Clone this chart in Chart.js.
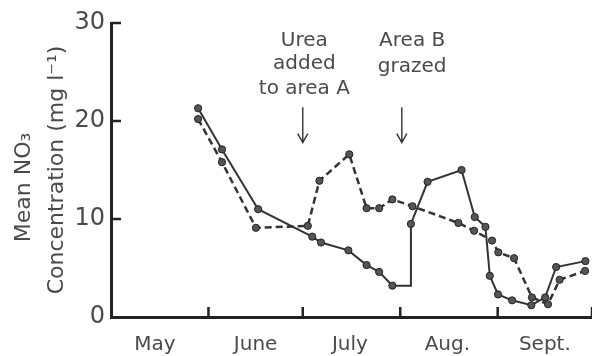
<!DOCTYPE html>
<html>
<head>
<meta charset="utf-8">
<script src="https://cdn.jsdelivr.net/npm/chart.js@4/dist/chart.umd.min.js"></script>
<style>
  html, body { margin: 0; padding: 0; background: #fff; }
  #wrap { width: 592px; height: 356px; }
</style>
</head>
<body>
<div id="wrap"><canvas id="no3Chart"></canvas></div>
<script>
// ---- data (x = days counted from 1 May) ----
const monthLabels = ['May', 'June', 'July', 'Aug.', 'Sept.'];
const monthMidDays = [14, 46, 76, 107, 138];        // where the month names sit
const monthStartDays = [31, 61, 92, 123, 153];      // tick marks on the time axis
const yTickValues = [0, 10, 20, 30];

// solid line (area B) - the 3.2 at day 95.4 is the corner of the step, no dot there
const solidDays   = [27.7, 35.3, 46.8, 64.0, 66.8, 75.5, 81.3, 85.3, 89.5, 95.4, 95.4, 100.7, 111.5, 115.7, 119.1, 120.5, 123.1, 127.6, 133.7, 138.1, 141.6, 150.9];
const solidValues = [21.3, 17.1, 11.0, 8.2, 7.6, 6.8, 5.3, 4.6, 3.2, 3.2, 9.5, 13.8, 15.0, 10.2, 9.2, 4.2, 2.3, 1.7, 1.2, 2.0, 5.1, 5.7];

// dashed line (area A)
const dashedDays   = [27.7, 35.3, 46.1, 62.6, 66.3, 75.8, 81.3, 85.3, 89.5, 95.9, 110.5, 115.5, 121.2, 123.2, 128.2, 133.9, 139.0, 142.7, 150.8];
const dashedValues = [20.2, 15.8, 9.1, 9.3, 13.9, 16.6, 11.1, 11.1, 12.0, 11.3, 9.6, 8.8, 7.8, 6.6, 6.0, 2.0, 1.3, 3.8, 4.7];

// notes above the plot
const noteUreaText = ['Urea', 'added', 'to area A'];
const noteGrazedText = ['Area B', 'grazed'];
const ureaDay = 61;
const grazedDay = 92.5;

const FONT = "'DejaVu Sans', sans-serif";
const INK = '#333';
const TEXT = '#4a4a4a';

function toPoints(days, values) {
    return days.map((d, i) => ({ x: d, y: values[i] }));
}

// no dot on a point that only starts a vertical step
function dotRadius(days) {
    return ctx => (days[ctx.dataIndex + 1] === days[ctx.dataIndex] && ctx.dataIndex > 0 &&
                   ctx.dataset.data[ctx.dataIndex - 1].y === ctx.dataset.data[ctx.dataIndex].y) ? 0 : 3.6;
}

// inward tick marks, arrows and the two notes
const figureMarks = {
    id: 'figureMarks',
    afterDatasetsDraw(chart) {
        const c = chart.ctx;
        const xs = chart.scales.x, ys = chart.scales.y;
        const area = chart.chartArea;
        c.save();
        c.strokeStyle = '#222';
        c.lineWidth = 2.5;
        // y ticks pointing right
        yTickValues.slice(1).forEach(v => {
            const py = ys.getPixelForValue(v);
            c.beginPath(); c.moveTo(area.left, py); c.lineTo(area.left + 10, py); c.stroke();
        });
        // x ticks pointing up
        monthStartDays.forEach(d => {
            const px = xs.getPixelForValue(d);
            c.beginPath(); c.moveTo(px, area.bottom); c.lineTo(px, area.bottom - 10); c.stroke();
        });

        // arrows
        c.strokeStyle = INK;
        c.lineWidth = 1.4;
        [ureaDay, grazedDay].forEach(d => {
            const px = xs.getPixelForValue(d);
            const top = ys.getPixelForValue(21.4), bot = ys.getPixelForValue(17.8);
            c.beginPath();
            c.moveTo(px, top); c.lineTo(px, bot);
            c.moveTo(px - 5, bot - 9); c.lineTo(px, bot); c.lineTo(px + 5, bot - 9);
            c.stroke();
        });

        // notes
        c.fillStyle = TEXT;
        c.font = '20px ' + FONT;
        c.textAlign = 'center';
        c.textBaseline = 'middle';
        const ureaX = xs.getPixelForValue(61.5);
        [28.2, 25.8, 23.3].forEach((v, i) => c.fillText(noteUreaText[i], ureaX, ys.getPixelForValue(v)));
        const grazedX = xs.getPixelForValue(95.8);
        [28.2, 25.5].forEach((v, i) => c.fillText(noteGrazedText[i], grazedX, ys.getPixelForValue(v)));
        c.restore();
    }
};

const ctx = document.getElementById('no3Chart').getContext('2d');
const no3Chart = new Chart(ctx, {
    type: 'line',
    data: {
        datasets: [
            {
                label: 'Area B',
                data: toPoints(solidDays, solidValues),
                borderColor: INK,
                borderWidth: 2,
                pointRadius: dotRadius(solidDays),
                pointBackgroundColor: '#555',
                pointBorderColor: '#222',
                pointBorderWidth: 1,
                tension: 0,
                fill: false
            },
            {
                label: 'Area A',
                data: toPoints(dashedDays, dashedValues),
                borderColor: INK,
                borderWidth: 2.5,
                borderDash: [7, 4],
                pointRadius: 3.6,
                pointBackgroundColor: '#555',
                pointBorderColor: '#222',
                pointBorderWidth: 1,
                tension: 0,
                fill: false
            }
        ]
    },
    options: {
        responsive: true,
        maintainAspectRatio: false,
        animation: false,
        devicePixelRatio: 1,
        layout: { autoPadding: false, padding: { top: 23, left: 0, right: 0, bottom: 0 } },
        plugins: {
            legend: { display: false },
            tooltip: { enabled: false }
        },
        scales: {
            x: {
                type: 'linear',
                min: 0,
                max: 153,
                afterBuildTicks: scale => { scale.ticks = monthMidDays.map(v => ({ value: v })); },
                afterFit: scale => {
                    scale.height = 39;
                    scale.paddingLeft = 0;
                    scale.paddingRight = 0;
                },
                ticks: {
                    autoSkip: false,
                    maxRotation: 0,
                    padding: 16,
                    color: TEXT,
                    font: { family: FONT, size: 20 },
                    callback: (v, i) => monthLabels[i]
                },
                grid: { display: true, drawOnChartArea: false, drawTicks: false },
                border: { display: true, color: '#222', width: 3 }
            },
            y: {
                min: 0,
                max: 30,
                afterBuildTicks: scale => { scale.ticks = yTickValues.map(v => ({ value: v })); },
                afterFit: scale => { scale.width = 111; },
                ticks: {
                    padding: 6,
                    color: TEXT,
                    font: { family: FONT, size: 24 }
                },
                grid: { display: true, drawOnChartArea: false, drawTicks: false },
                border: { display: true, color: '#222', width: 3 },
                title: {
                    display: true,
                    text: ['Mean NO\u2083     ', 'Concentration (mg l\u207B\u00B9)'],
                    color: TEXT,
                    font: { family: FONT, size: 22, lineHeight: 1.5 },
                    padding: { top: 8, bottom: 0 }
                }
            }
        }
    },
    plugins: [figureMarks]
});
</script>
</body>
</html>
